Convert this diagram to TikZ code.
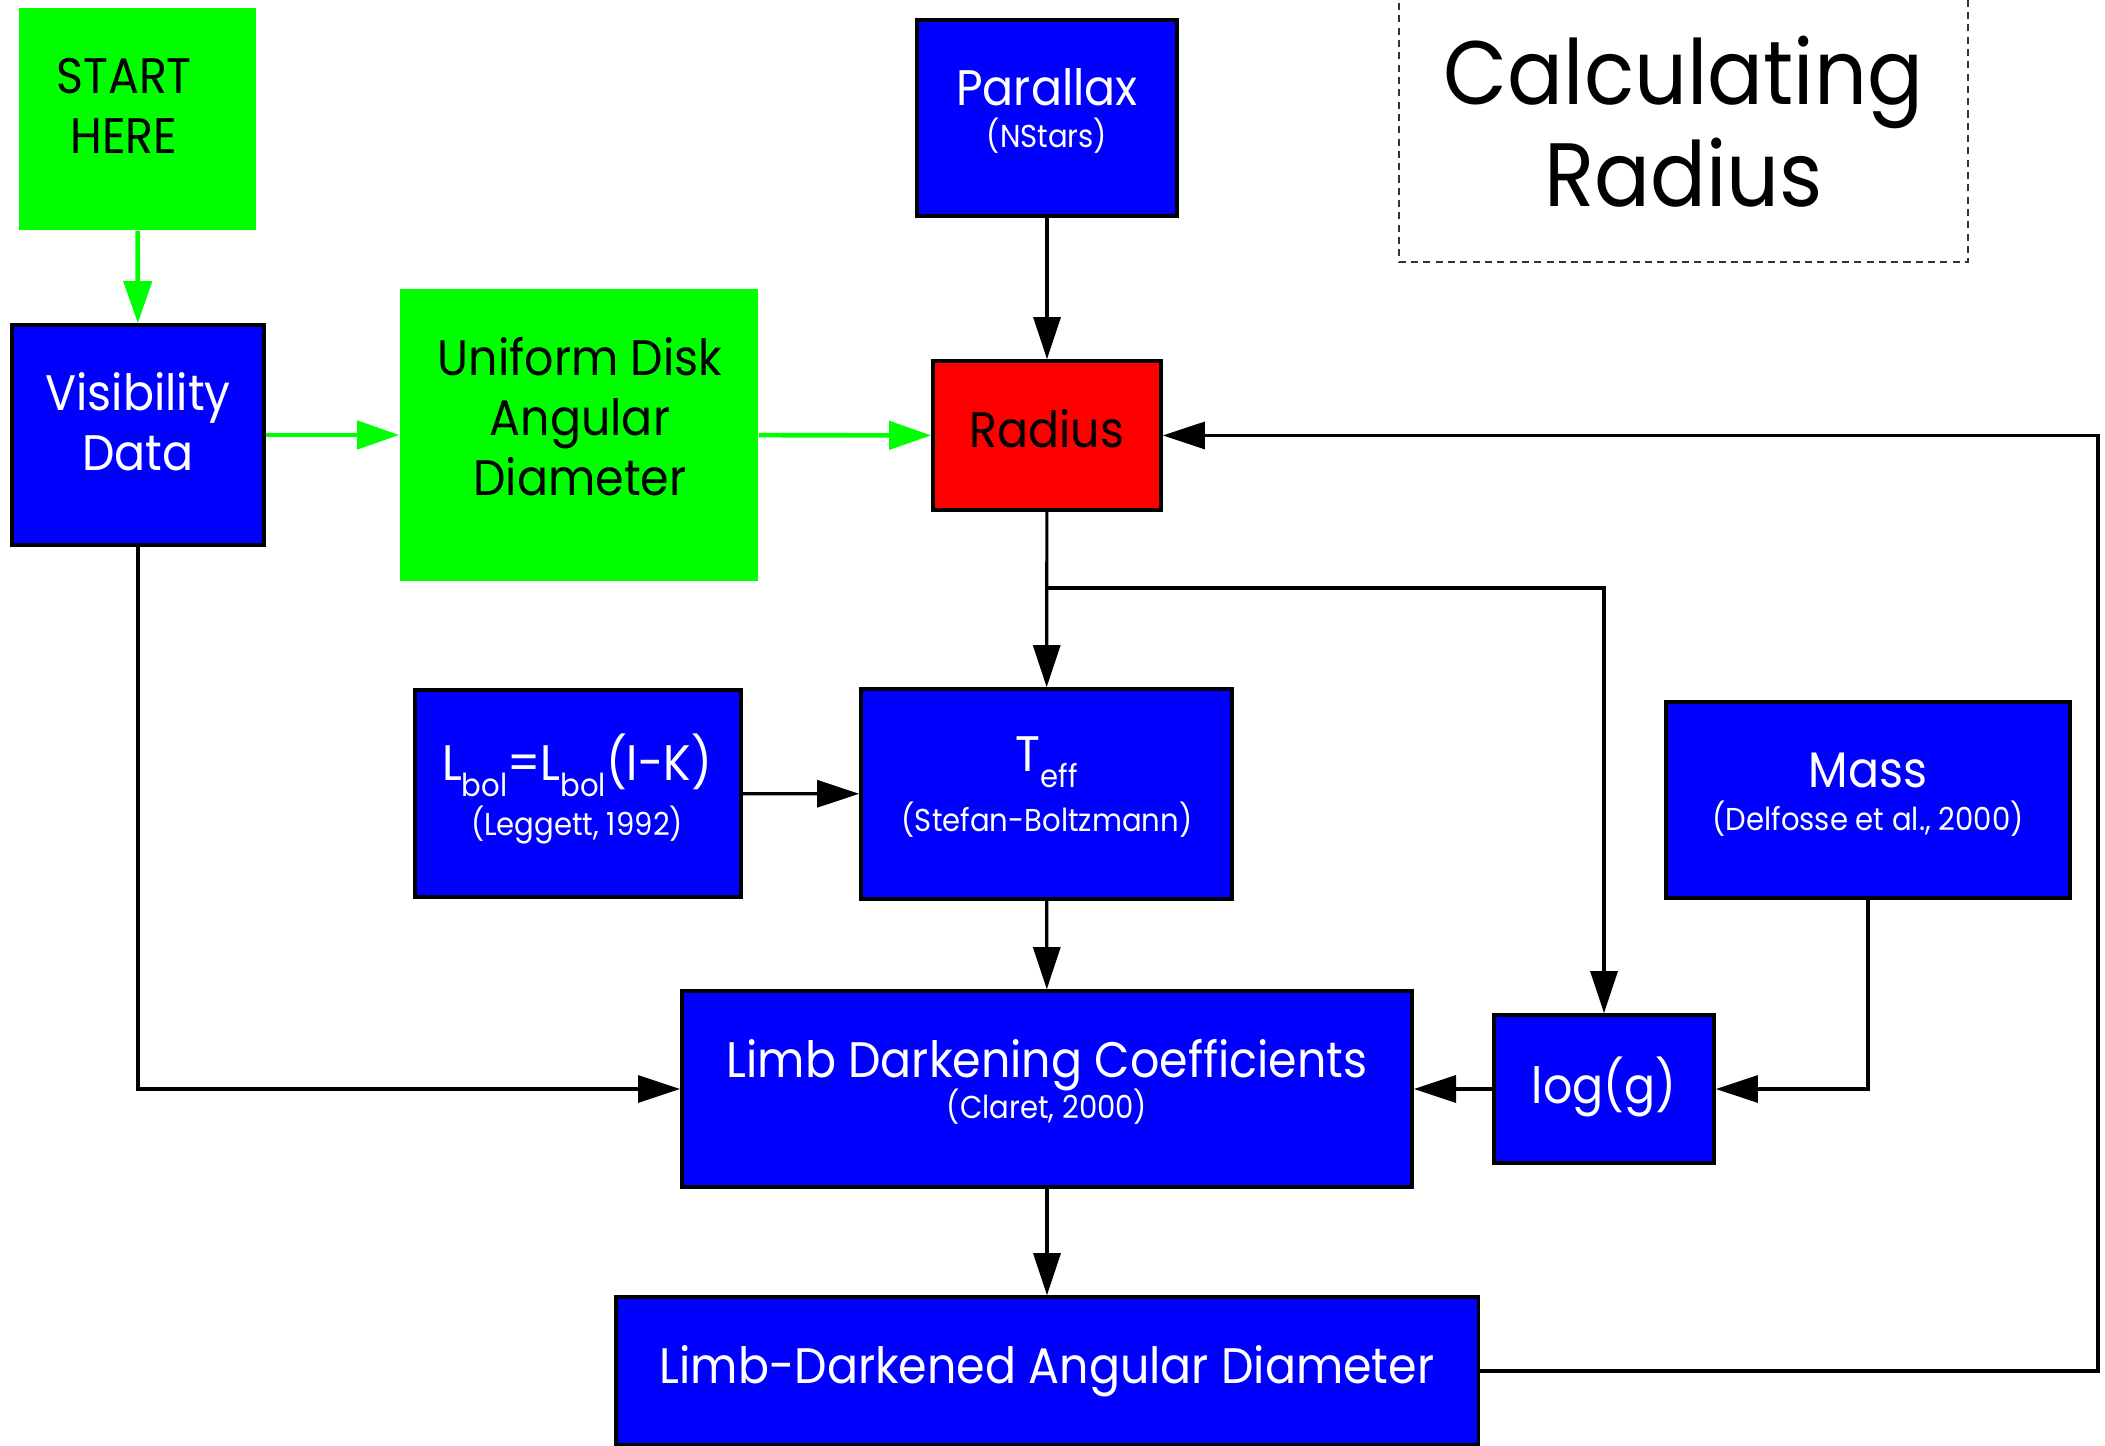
\documentclass[tikz,border=0pt]{standalone}
\usepackage{fontspec}
\setmainfont{Poppins}[FakeStretch=0.92]
\usetikzlibrary{arrows.meta}
\newcommand\bigsz{\fontsize{14.2}{17}\selectfont}
\newcommand\smallsz{\fontsize{9}{10}\selectfont}
\newcommand\titlesz{\fontsize{25.6}{29}\selectfont}
\newcommand\lowsub[1]{\raisebox{-4.5pt}{\fontsize{9}{10}\selectfont #1}}

\begin{document}
\begin{tikzpicture}[x=0.01cm,y=-0.01cm,
  box/.style={rectangle,draw,line width=1pt},
  bluebox/.style={box,fill=blue},
  redbox/.style={box,fill=red},
  greenbox/.style={rectangle,fill=green},
  txt/.style={align=center,inner sep=0pt,font=\bigsz},
  whitetxt/.style={txt,text=white},
  link/.style={draw,line width=0.9pt,-{Triangle[length=4.2mm,width=2.7mm]}},
  greenlink/.style={draw=green,line width=1.3pt,-{Triangle[length=4.2mm,width=2.8mm]}}]
\useasboundingbox (0,0) rectangle (2105,1446);

\node [rectangle,draw=black!80,dash pattern=on 2pt off 1.5pt,line width=0.4pt,minimum width=5.69cm,minimum height=2.8cm,align=center,font=\titlesz] (title) at (1683.5,122) {Calculating\\Radius};

\node [greenbox,minimum width=2.37cm,minimum height=2.22cm] (start) at (137.5,119) {};
\node [txt] (startlbl) at (124,106) {START\\HERE};

\node [bluebox,minimum width=2.52cm,minimum height=2.2cm] (vis) at (138,435) {};
\node [whitetxt] (vislbl) at (138,422) {Visibility\\Data};

\node [greenbox,minimum width=3.58cm,minimum height=2.92cm] (udad) at (579,435) {};
\node [txt] (udadlbl) at (580,416.5) {Uniform Disk\\Angular\\Diameter};

\node [bluebox,minimum width=2.6cm,minimum height=1.96cm] (parallax) at (1047,118) {};
\node [whitetxt] (parallaxlbl) at (1047,111) {Parallax\\[-4.8pt]{\smallsz (NStars)}};

\node [redbox,minimum width=2.28cm,minimum height=1.49cm] (radius) at (1047,435.5) {};
\node [txt] (radiuslbl) at (1047,429) {Radius};

\node [bluebox,minimum width=3.26cm,minimum height=2.07cm] (lbol) at (578,793.5) {};
\node [whitetxt] (lbollbl) at (577,789) {L\lowsub{bol}=L\lowsub{bol}(I-K)\\[-1.6pt]{\smallsz (Leggett, 1992)}};

\node [bluebox,minimum width=3.71cm,minimum height=2.1cm] (teff) at (1046.5,794) {};
\node [whitetxt] (tefflbl) at (1047,787) {T\lowsub{eff}\\[0pt]{\smallsz (Stefan-Boltzmann)}};

\node [bluebox,minimum width=4.04cm,minimum height=1.96cm] (mass) at (1868,800) {};
\node [whitetxt] (masslbl) at (1868,794.5) {Mass\\[-4.8pt]{\smallsz (Delfosse et al., 2000)}};

\node [bluebox,minimum width=7.3cm,minimum height=1.96cm] (ldc) at (1047,1089) {};
\node [whitetxt] (ldclbl) at (1047,1082) {Limb Darkening Coefficients\\[-5.4pt]{\smallsz (Claret, 2000)}};

\node [bluebox,minimum width=2.2cm,minimum height=1.48cm] (logg) at (1604,1089) {};
\node [whitetxt] (logglbl) at (1604,1087) {log(g)};

\node [bluebox,minimum width=8.62cm,minimum height=1.48cm] (ldad) at (1047,1371) {};
\node [whitetxt] (ldadlbl) at (1047,1371) {Limb-Darkened Angular Diameter};

\coordinate (split) at (1047,588);
\coordinate (back) at (2098,435.5);

\draw [greenlink] (start) -- (vis);
\draw [greenlink] (vis) -- (udad);
\draw [greenlink] (udad) -- (radius);
\draw [link] (parallax) -- (radius);
\draw [link] (radius) -- (teff);
\draw [link] (split) -| (logg);
\draw [link] (lbol) -- (teff);
\draw [link] (teff) -- (ldc);
\draw [link] (vis) |- (ldc);
\draw [link] (mass) |- (logg);
\draw [link] (logg) -- (ldc);
\draw [link] (ldc) -- (ldad);
\draw [link] (ldad) -| (back) -- (radius);
\end{tikzpicture}
\end{document}
